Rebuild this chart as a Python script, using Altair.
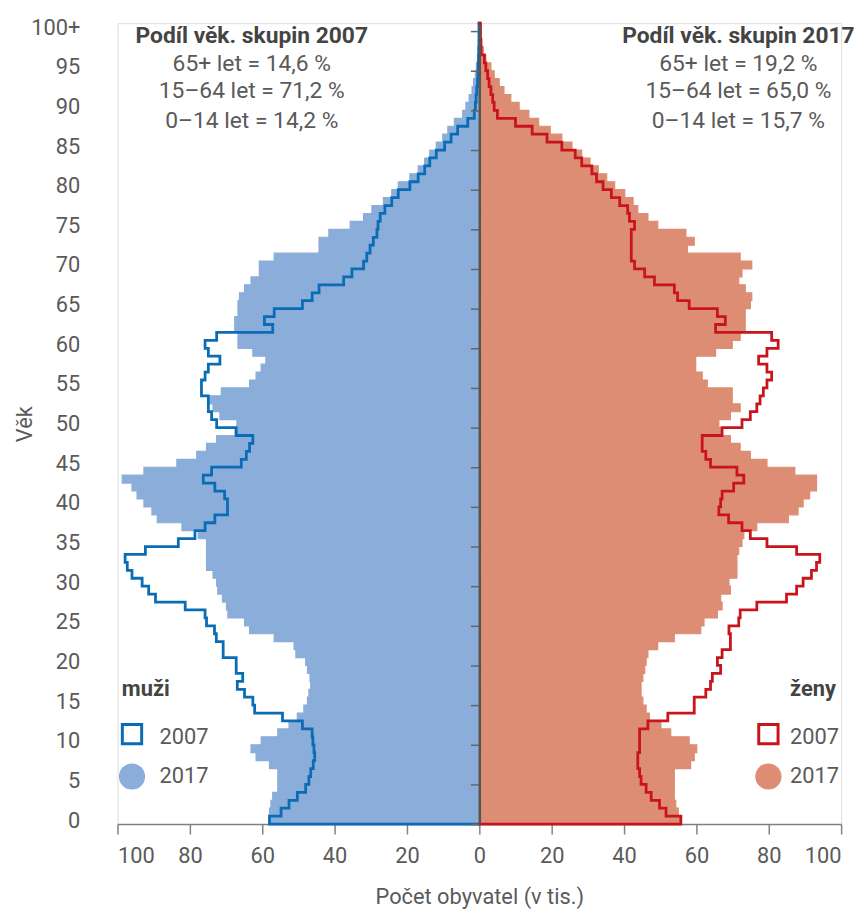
import altair as alt
import pandas as pd

ages = list(range(101))

male_2007 = [58.0, 54.8, 52.6, 50.3, 48.0, 47.1, 46.6, 45.9, 45.5, 45.7,
             46.0, 46.2, 48.9, 54.4, 62.1, 62.6, 64.9, 66.9, 65.4, 67.2,
             67.2, 70.8, 70.8, 72.7, 73.2, 75.4, 75.8, 81.3, 89.5, 91.4,
             93.2, 96.0, 97.3, 97.9, 92.3, 83.2, 78.6, 75.8, 73.1, 69.6,
             69.6, 70.4, 73.1, 76.3, 74.0, 65.8, 64.4, 63.5, 62.6, 67.2,
             72.6, 74.0, 74.9, 74.9, 76.8, 76.8, 75.8, 74.9, 71.7, 74.9,
             75.8, 72.6, 57.1, 59.4, 56.7, 48.9, 46.2, 44.3, 37.5, 35.2,
             32.0, 31.1, 30.2, 29.3, 28.3, 28.0, 27.4, 26.1, 24.2, 22.4,
             19.2, 16.9, 15.1, 13.7, 11.9, 9.6, 7.8, 6.0, 3.2, 1.4,
             1.1, 0.9, 0.7, 0.5, 0.4, 0.3, 0.2, 0.15, 0.1, 0.1, 0.1]

female_2007 = [55.7, 51.6, 49.8, 47.5, 46.1, 44.7, 44.3, 43.8, 43.8, 44.3,
               44.3, 44.3, 46.6, 52.1, 59.4, 59.4, 62.6, 63.9, 64.4, 66.7,
               65.8, 67.1, 69.4, 69.4, 69.0, 71.7, 72.1, 76.7, 84.9, 87.7,
               89.5, 91.8, 93.2, 94.1, 87.7, 79.5, 74.9, 72.6, 68.9, 66.2,
               66.7, 67.1, 70.3, 73.1, 71.2, 63.9, 62.6, 61.6, 61.6, 67.1,
               72.6, 74.9, 76.7, 77.6, 78.5, 79.5, 80.8, 79.5, 77.2, 79.5,
               82.6, 80.8, 65.3, 68.0, 65.8, 58.0, 54.8, 53.9, 48.4, 45.7,
               42.9, 42.0, 42.0, 42.0, 42.0, 42.9, 41.5, 41.0, 38.8, 36.5,
               34.2, 32.4, 31.1, 28.3, 26.5, 22.8, 18.7, 14.6, 10.0, 5.0,
               4.1, 3.7, 3.2, 2.7, 2.3, 1.8, 1.4, 0.5, 0.4, 0.3, 0.3]

male_2017 = [58.0, 58.0, 57.6, 57.1, 55.7, 55.7, 55.7, 58.0, 61.7, 63.1,
             60.3, 55.7, 52.6, 50.3, 48.5, 47.5, 47.1, 46.6, 46.8, 47.5,
             48.0, 50.7, 51.2, 56.7, 63.5, 64.9, 69.5, 69.9, 71.0, 72.3,
             72.6, 73.6, 75.4, 75.4, 75.4, 75.4, 77.7, 82.2, 89.0, 90.5,
             92.7, 94.6, 96.0, 98.7, 92.7, 83.6, 78.1, 75.4, 72.6, 67.5,
             67.0, 71.7, 73.6, 74.5, 71.3, 63.5, 61.7, 60.3, 59.0, 62.6,
             66.7, 66.7, 67.6, 67.6, 66.7, 66.7, 66.3, 64.9, 63.1, 60.8,
             60.8, 56.7, 44.3, 44.3, 41.6, 35.7, 32.0, 29.7, 26.5, 24.2,
             22.4, 19.2, 16.9, 15.1, 13.7, 11.9, 10.1, 8.7, 6.9, 4.6,
             3.7, 2.8, 2.0, 1.6, 1.1, 0.8, 0.5, 0.35, 0.25, 0.2, 0.2]

female_2017 = [55.7, 55.0, 54.3, 53.9, 53.9, 53.9, 53.9, 58.4, 59.4, 60.1,
               58.0, 52.9, 50.2, 47.0, 46.1, 45.2, 44.7, 44.7, 45.2, 45.7,
               46.1, 46.6, 49.3, 53.9, 61.2, 62.1, 65.8, 67.1, 66.7, 69.4,
               69.0, 71.2, 71.2, 71.2, 71.7, 72.6, 73.1, 76.7, 85.4, 88.1,
               89.5, 91.3, 93.2, 93.2, 87.2, 79.5, 74.9, 72.1, 69.4, 67.1,
               66.2, 69.4, 72.1, 69.9, 69.9, 63.0, 61.6, 59.8, 59.8, 65.3,
               69.9, 72.1, 73.5, 73.5, 73.5, 74.9, 75.3, 73.5, 71.7, 72.6,
               75.3, 72.1, 57.5, 59.4, 57.1, 49.3, 46.6, 43.8, 42.5, 40.2,
               37.4, 35.2, 32.9, 30.6, 28.3, 25.6, 22.8, 19.6, 16.4, 13.7,
               11.0, 8.7, 6.8, 5.5, 4.1, 3.2, 1.8, 1.1, 0.7, 0.5, 0.5]

sexes = ["muži", "ženy"]
fill_colors = ["#8badda", "#dd8d74"]
line_colors = ["#0a6cb5", "#c9141e"]

heading_2007 = ["Podíl věk. skupin 2007", "65+ let = 14,6 %", "15–64 let = 71,2 %", "0–14 let = 14,2 %"]
heading_2017 = ["Podíl věk. skupin 2017", "65+ let = 19,2 %", "15–64 let = 65,0 %", "0–14 let = 15,7 %"]

FONT = "Roboto"
TXT = "#5a5a5a"

# ---- 2017 bars (one band per year of age) ----
bars = pd.DataFrame({
    "sex": ["muži"] * len(ages) + ["ženy"] * len(ages),
    "v": [-v for v in male_2017] + female_2017,
    "a0": ages + ages,
})
bars["a1"] = bars["a0"] + 1
bars["z"] = 0.0

# ---- 2007 stepped outline ----
rows = []
for sex, sign, vals in [("muži", -1, male_2007), ("ženy", 1, female_2007)]:
    o = 0
    rows.append({"sex": sex, "x": 0.0, "y": 0, "o": o})
    for a, v in zip(ages, vals):
        o += 1
        rows.append({"sex": sex, "x": sign * v, "y": a, "o": o})
        o += 1
        rows.append({"sex": sex, "x": sign * v, "y": a + 1, "o": o})
    o += 1
    rows.append({"sex": sex, "x": 0.0, "y": ages[-1] + 1, "o": o})
outline_df = pd.DataFrame(rows)

xscale = alt.Scale(domain=[-100, 100], nice=False, zero=False)
yscale = alt.Scale(domain=[0, 101], nice=False, zero=False)
cscale_fill = alt.Scale(domain=sexes, range=fill_colors)
cscale_line = alt.Scale(domain=sexes, range=line_colors)

x_axis = alt.Axis(values=list(range(-100, 101, 20)), labelExpr="abs(datum.value)",
                  tickSize=10, tickColor="#808080", domainColor="#808080", domainWidth=1.5,
                  tickWidth=1.5, labelFontSize=22, labelColor=TXT, labelPadding=12,
                  labelFont=FONT, title="Počet obyvatel (v tis.)", titleFont=FONT,
                  titleFontSize=22, titleFontWeight="normal", titleColor=TXT,
                  titlePadding=20, grid=False)

y_label_axis = alt.Axis(orient="left", values=list(range(0, 101, 5)),
                        labelExpr="datum.value == 100 ? '100+' : datum.value",
                        ticks=False, domain=False, labelPadding=38, labelOffset=-4,
                        labelFontSize=22, labelColor=TXT, labelFont=FONT,
                        title="Věk", titleFont=FONT, titleFontSize=22,
                        titleFontWeight="normal", titleColor=TXT,
                        titleX=-87, titleY=404, titleAngle=270, titleAlign="center",
                        titleBaseline="alphabetic", grid=False)

center_axis = alt.Axis(orient="left", offset=-365, values=list(range(0, 101, 5)),
                       labels=False, tickSize=9, tickColor="#666666", tickWidth=1.5,
                       domainColor="#555555", domainWidth=2.5, title=None, grid=False,
                       zindex=1)

# bars drawn with an outline in their own fill colour so neighbouring bands merge
bar_layer = alt.Chart(bars).mark_rect(strokeWidth=1.2, strokeOpacity=1, opacity=1).encode(
    x=alt.X("v:Q", scale=xscale, axis=x_axis),
    x2="z:Q",
    y=alt.Y("a0:Q", scale=yscale, axis=y_label_axis),
    y2="a1:Q",
    color=alt.Color("sex:N", scale=cscale_fill, legend=None),
    stroke=alt.Stroke("sex:N", scale=cscale_fill, legend=None),
)

line_layer = alt.Chart(outline_df).mark_line(strokeWidth=2.8, strokeJoin="miter", strokeCap="square").encode(
    x=alt.X("x:Q", scale=xscale),
    y=alt.Y("y:Q", scale=yscale, axis=center_axis),
    order="o:Q",
    detail="sex:N",
    color=alt.Color("sex:N", scale=cscale_line, legend=None),
)

# ---- headings ----
head_rows = []
for cx, lines in [(-62.9, heading_2007), (71.6, heading_2017)]:
    for i, t in enumerate(lines):
        head_rows.append({"x": cx, "y": [99.4, 95.9, 92.4, 88.7][i], "t": t,
                          "b": "bold" if i == 0 else "normal"})
heads = pd.DataFrame(head_rows)

head_bold = alt.Chart(heads[heads.b == "bold"]).mark_text(
    font=FONT, fontSize=23, fontWeight="bold", color="#444444", align="center", baseline="middle"
).encode(x=alt.X("x:Q", scale=xscale), y=alt.Y("y:Q", scale=yscale, axis=None), text="t:N")

head_norm = alt.Chart(heads[heads.b == "normal"]).mark_text(
    font=FONT, fontSize=23, color=TXT, align="center", baseline="middle"
).encode(x=alt.X("x:Q", scale=xscale), y=alt.Y("y:Q", scale=yscale, axis=None), text="t:N")

# ---- legends ----
leg_titles = pd.DataFrame({"x": [-98.8, 85.9], "y": [17.0, 17.0], "t": sexes})
leg_title_layer = alt.Chart(leg_titles).mark_text(
    font=FONT, fontSize=22, fontWeight="bold", color="#444444", align="left", baseline="middle"
).encode(x=alt.X("x:Q", scale=xscale), y=alt.Y("y:Q", scale=yscale, axis=None), text="t:N")

leg_sym = pd.DataFrame({"x": [-96.0, 79.9], "y": [11.35, 11.35], "sex": sexes})
leg_sq = alt.Chart(leg_sym).mark_point(shape="square", filled=False, size=380, strokeWidth=3, opacity=1).encode(
    x=alt.X("x:Q", scale=xscale), y=alt.Y("y:Q", scale=yscale, axis=None),
    color=alt.Color("sex:N", scale=cscale_line, legend=None))

leg_circ_df = pd.DataFrame({"x": [-96.0, 79.9], "y": [6.0, 6.0], "sex": sexes})
leg_circ = alt.Chart(leg_circ_df).mark_circle(size=700, opacity=1).encode(
    x=alt.X("x:Q", scale=xscale), y=alt.Y("y:Q", scale=yscale, axis=None),
    color=alt.Color("sex:N", scale=cscale_fill, legend=None))

leg_txt = pd.DataFrame({"x": [-88.4, -88.4, 85.9, 85.9], "y": [11.0, 6.0, 11.0, 6.0],
                        "t": ["2007", "2017", "2007", "2017"]})
leg_txt_layer = alt.Chart(leg_txt).mark_text(
    font=FONT, fontSize=22, color=TXT, align="left", baseline="middle"
).encode(x=alt.X("x:Q", scale=xscale), y=alt.Y("y:Q", scale=yscale, axis=None), text="t:N")

chart = alt.layer(
    bar_layer, line_layer, head_bold, head_norm, leg_title_layer, leg_sq, leg_circ, leg_txt_layer
).resolve_axis(y="independent").resolve_scale(color="independent", stroke="independent").properties(
    width=730, height=808,
    autosize=alt.AutoSizeParams(type="none"),
    padding={"left": 110.5, "top": 11.3, "right": 14, "bottom": 84},
).configure_view(stroke=None).configure(font=FONT)

chart.save("out.html", embed_options={"renderer": "svg", "actions": False})
